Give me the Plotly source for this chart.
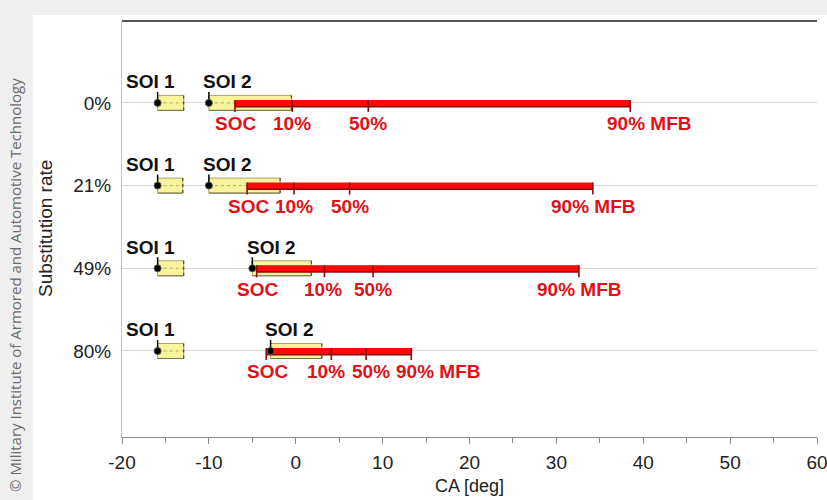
import plotly.graph_objects as go

# ---------------- data (crank angle, deg) ----------------
RATES = ["0%", "21%", "49%", "80%"]
SOI1_START = [-15.9, -15.9, -15.9, -15.9]
SOI1_END = [-12.9, -13.0, -12.9, -12.9]
SOI2_START = [-10.0, -10.0, -5.0, -2.9]
SOI2_END = [-0.5, -1.8, 1.8, 3.0]
SOC = [-7.0, -5.6, -4.5, -3.4]
MFB10 = [-0.4, -0.2, 3.3, 4.1]
MFB50 = [8.35, 6.2, 8.9, 8.1]
MFB90 = [38.5, 34.2, 32.6, 13.3]
X_TICKS = [-20, -10, 0, 10, 20, 30, 40, 50, 60]
X_TICK_TEXT = ["-20", "-10", "0", "10", "20", "30", "40", "50", "60"]

# ---------------- layout constants ----------------
W, H = 827, 500
ML, MR, MT, MB = 122, 10, 21, 63
Y_RANGE = [4.04, -0.99]
PLOT_H = H - MT - MB
PW = W - ML - MR
PPU = PLOT_H / (Y_RANGE[0] - Y_RANGE[1])  # pixels per row unit


def py(px):
    return px / PPU


BOX_H = py(7.5)
YELLOW = "#f8f39c"
BOX_EDGE = "#a9a36c"
RED = "#fa0a0a"
DARK_RED = "#8e0b0b"
TXT_RED = "#df1219"
FONT = "Liberation Sans, Arial, sans-serif"

# label offsets (px) used to keep the labels apart, as in the original
MFB10_SHIFT = [0, 0, -1, -5]
MFB50_SHIFT = [0, 0, 0, 5]
MFB90_SHIFT = [19, 0, 0, 27]
SOI1_SHIFT = -7
SOI2_SHIFT = 19

fig = go.Figure()
rows = list(range(len(RATES)))


def add_line(x, y, color, width, dash="solid"):
    fig.add_trace(go.Scatter(x=x, y=y, mode="lines",
                             line=dict(color=color, width=width, dash=dash),
                             hoverinfo="skip", showlegend=False))


# injection boxes
for r in rows:
    for s, e in ((SOI1_START[r], SOI1_END[r]), (SOI2_START[r], SOI2_END[r])):
        fig.add_trace(go.Scatter(
            x=[s, e, e, s, s], y=[r - BOX_H, r - BOX_H, r + BOX_H, r + BOX_H, r - BOX_H],
            mode="lines", fill="toself", fillcolor=YELLOW,
            line=dict(color=BOX_EDGE, width=1), hoverinfo="skip", showlegend=False))
        add_line([s, e], [r, r], "#b3aa62", 1, "dot")
        add_line([e, e], [r - BOX_H, r + BOX_H], "#4a4a3a", 1.2, "dot")
        add_line([e, s], [r + BOX_H, r + BOX_H], "#77734a", 1)
        add_line([s, s], [r - py(11), r + py(1)], "black", 1.5)

# combustion bars
for r in rows:
    add_line([SOC[r], MFB90[r]], [r + py(1), r + py(1)], DARK_RED, 7)
    add_line([SOC[r], MFB90[r]], [r, r], RED, 6)
    for v in (SOC[r], MFB10[r], MFB50[r], MFB90[r]):
        add_line([v, v], [r - py(3), r + py(9)], DARK_RED, 1.6)

# SOI dots
fig.add_trace(go.Scatter(
    x=SOI1_START + SOI2_START, y=rows + rows, mode="markers",
    marker=dict(color="black", size=7, line=dict(color="#555", width=1)),
    hoverinfo="skip", showlegend=False))

# labels
ann = []
for r in rows:
    for v, t, sh in ((SOI1_START[r], "SOI 1", SOI1_SHIFT), (SOI2_START[r], "SOI 2", SOI2_SHIFT)):
        ann.append(dict(x=v, y=r, text=t, showarrow=False, xshift=sh, yshift=21,
                        xanchor="center", yanchor="middle",
                        font=dict(family=FONT, size=19, color="#111", weight="bold")))
    for v, t, sh in ((SOC[r], "SOC", 1), (MFB10[r], "10%", MFB10_SHIFT[r]),
                     (MFB50[r], "50%", MFB50_SHIFT[r]),
                     (MFB90[r], "90% MFB", MFB90_SHIFT[r])):
        ann.append(dict(x=v, y=r, text=t, showarrow=False, xshift=sh, yshift=-21,
                        xanchor="center", yanchor="middle",
                        font=dict(family=FONT, size=19, color=TXT_RED, weight="bold")))

ann.append(dict(xref="paper", yref="paper", x=(45 - ML) / PW, y=0.5,
                xanchor="center", yanchor="middle",
                text="Substitution rate", textangle=-90, showarrow=False,
                font=dict(family=FONT, size=19, color="#222")))
ann.append(dict(xref="paper", yref="paper", x=0.5, y=(H - MB - 486) / PLOT_H,
                xanchor="center", yanchor="middle",
                text="CA [deg]", showarrow=False,
                font=dict(family=FONT, size=18, color="#222")))
ann.append(dict(xref="paper", yref="paper", x=(15 - ML) / PW,
                y=(H - MB - 285) / PLOT_H, xanchor="center", yanchor="middle",
                text="© Military Institute of Armored and Automotive Technology",
                textangle=-90, showarrow=False,
                font=dict(family="Open Sans, sans-serif", size=15, color="#6a6a6a")))

shapes = [
    dict(type="rect", xref="paper", yref="paper", layer="below",
         x0=(33 - ML) / PW, x1=(W - ML) / PW, y0=-MB / PLOT_H, y1=(H - MB - 15) / PLOT_H,
         fillcolor="white", line=dict(width=0)),
    dict(type="line", xref="paper", yref="paper", x0=0, x1=1, y0=1, y1=1,
         line=dict(color="#555", width=2)),
]

fig.update_layout(
    width=W, height=H,
    margin=dict(l=ML, r=MR, t=MT, b=MB, autoexpand=False),
    paper_bgcolor="#efefef", plot_bgcolor="white",
    annotations=ann, shapes=shapes,
    xaxis=dict(range=[-20, 60], tickvals=X_TICKS, ticktext=X_TICK_TEXT,
               ticks="outside", ticklen=6, ticklabeloverflow="allow",
               tickcolor="#8c8c8c", showline=True, linecolor="#8c8c8c", linewidth=1,
               showgrid=False, zeroline=False, automargin=False,
               minor=dict(dtick=5, ticks="outside", ticklen=5, tickcolor="#8c8c8c"),
               tickfont=dict(family=FONT, size=19, color="#222"), ticklabelstandoff=2),
    yaxis=dict(range=Y_RANGE, tickvals=rows, ticktext=RATES, showline=True,
               linecolor="#c4c4c4", showgrid=True, gridcolor="#d6d6d6", zeroline=False,
               ticks="", ticklabelstandoff=6, automargin=False,
               tickfont=dict(family=FONT, size=19, color="#222")),
)

fig.write_html("out.html",
               config={"displayModeBar": False},
               post_script="document.body.style.margin='0';"
                           "document.body.style.background='#efefef';")
